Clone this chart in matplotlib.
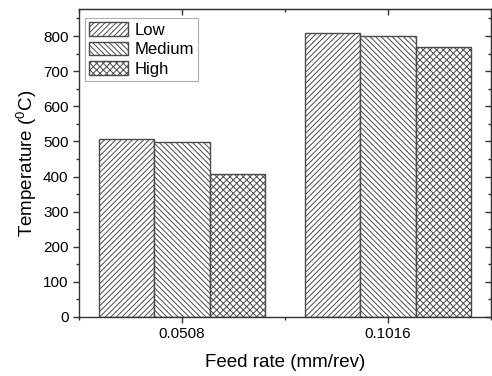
import matplotlib
matplotlib.use("Agg")
import matplotlib.pyplot as plt
import numpy as np
from matplotlib.ticker import MultipleLocator

plt.rcParams['font.family'] = ['Liberation Sans', 'DejaVu Sans']
plt.rcParams['mathtext.fontset'] = 'custom'
plt.rcParams['mathtext.rm'] = 'Liberation Sans'
plt.rcParams['mathtext.it'] = 'Liberation Sans:italic'
plt.rcParams['hatch.linewidth'] = 0.7
plt.rcParams['hatch.color'] = '#8a8a8a'

categories = ['0.0508', '0.1016']
series = ['Low', 'Medium', 'High']
low = [507, 810]
medium = [498, 801]
high = [406, 768]
hatches = ['/' * 6, '\\' * 6, 'x' * 5]

fig = plt.figure(figsize=(4.92, 3.76), dpi=100)
ax = fig.add_axes([79/492, 1-317/376, (491-79)/492, (317-9)/376])

x = np.arange(len(categories))
w = 0.267
for i, (name, vals, h) in enumerate(zip(series, [low, medium, high], hatches)):
    ax.bar(x + (i-1)*w, vals, w, label=name, facecolor='white',
           edgecolor='#4a4a4a', hatch=h, linewidth=1.0)

ax.set_xlim(-0.5, 1.5)
ax.set_ylim(0, 877)
ax.set_xticks(x)
ax.set_xticklabels(categories)
ax.xaxis.set_minor_locator(MultipleLocator(0.5))
ax.yaxis.set_major_locator(MultipleLocator(100))
ax.yaxis.set_minor_locator(MultipleLocator(50))
tc = '#333333'
ax.tick_params(axis='both', which='major', direction='out', length=4.5, width=1, labelsize=11, color=tc, pad=3)
ax.tick_params(axis='both', which='minor', direction='out', length=2.5, width=1, color=tc)
ax.tick_params(axis='x', which='both', top=False, bottom=True)
ax.tick_params(axis='y', which='both', left=True, right=False)
for s in ax.spines.values():
    s.set_linewidth(1.0)
    s.set_color(tc)

ax2 = ax.secondary_xaxis('top')
ax2.set_xticks(x)
ax2.set_xticklabels([])
ax2.xaxis.set_minor_locator(MultipleLocator(0.5))
ax2.tick_params(which='major', direction='in', length=4.5, width=1, color=tc)
ax2.tick_params(which='minor', direction='in', length=2.5, width=1, color=tc)
ax2.spines['top'].set_color(tc)
ax3 = ax.secondary_yaxis('right')
ax3.yaxis.set_major_locator(MultipleLocator(100))
ax3.yaxis.set_minor_locator(MultipleLocator(50))
ax3.set_yticklabels([])
ax3.tick_params(which='major', direction='in', length=4.5, width=1, color=tc)
ax3.tick_params(which='minor', direction='in', length=2.5, width=1, color=tc)
ax3.spines['right'].set_color(tc)

ax.set_xlabel('Feed rate (mm/rev)', fontsize=13.5, labelpad=9)
ax.set_ylabel('Temperature ($^{0}$C)', fontsize=13.5, labelpad=3)

leg = ax.legend(loc='upper left', bbox_to_anchor=(85/492, 1-18/376), bbox_transform=fig.transFigure,
                fontsize=12, handlelength=2.35, handleheight=0.9,
                frameon=True, fancybox=False, edgecolor='#999999', borderpad=0.25,
                labelspacing=0.22, handletextpad=0.35, borderaxespad=0)
leg.get_frame().set_linewidth(0.8)

fig.savefig('out.png', dpi=100)
